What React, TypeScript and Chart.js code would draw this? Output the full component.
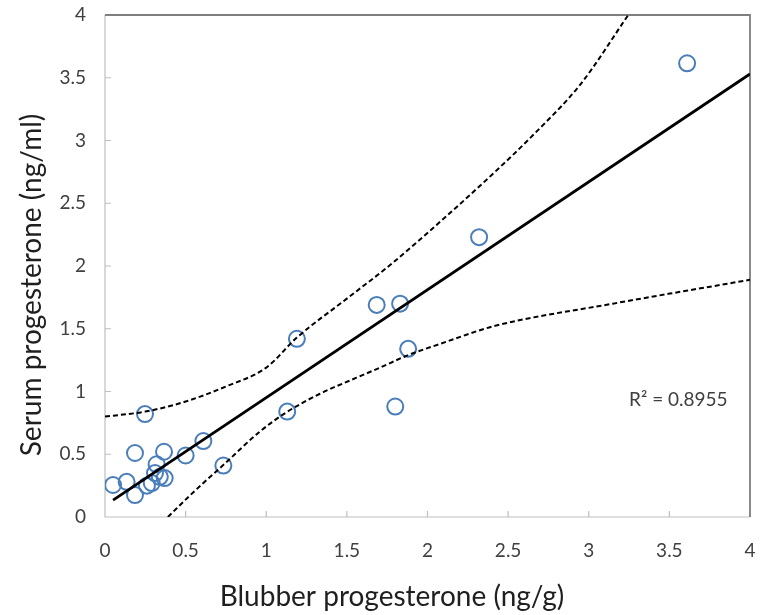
import React, { useEffect, useRef } from "react";
import { Chart, registerables } from "chart.js";

Chart.register(...registerables);

// Observed data: blubber progesterone (ng/g) vs serum progesterone (ng/ml)
const blubber = [0.05, 0.134, 0.186, 0.186, 0.248, 0.26, 0.29, 0.31, 0.32, 0.34, 0.37, 0.366, 0.5, 0.61, 0.734, 1.13, 1.19, 1.685, 1.83, 1.88, 1.8, 2.32, 3.61];
const serum = [0.255, 0.28, 0.175, 0.51, 0.82, 0.25, 0.27, 0.35, 0.42, 0.32, 0.31, 0.52, 0.49, 0.605, 0.41, 0.84, 1.42, 1.69, 1.7, 1.34, 0.88, 2.23, 3.615];

// Linear trend line
const trendX = [0.05, 4];
const trendY = [0.135, 3.53];

// Upper confidence band
const upperX = [0, 0.25, 0.5, 0.75, 1.0, 1.19, 1.5, 1.77, 2.12, 2.41, 2.66, 2.95, 3.245];
const upperY = [0.8, 0.84, 0.92, 1.04, 1.19, 1.43, 1.74, 2.01, 2.4, 2.74, 3.05, 3.45, 4.0];

// Lower confidence band
const lowerX = [0.39, 0.55, 0.73, 0.96, 1.12, 1.33, 1.56, 1.705, 1.88, 2.08, 2.41, 3.15, 4.0];
const lowerY = [0, 0.2, 0.41, 0.68, 0.83, 0.98, 1.11, 1.19, 1.29, 1.38, 1.52, 1.7, 1.89];

const xTicks = [0, 0.5, 1, 1.5, 2, 2.5, 3, 3.5, 4];
const yTicks = [0, 0.5, 1, 1.5, 2, 2.5, 3, 3.5, 4];

const xTitle = "Blubber progesterone (ng/g)";
const yTitle = "Serum progesterone (ng/ml)";
const r2Label = "R² = 0.8955";
const r2At = { x: 3.25, y: 0.93 };

const FONT = "Lato, 'Noto Sans', sans-serif";

const toPts = (xs: number[], ys: number[]) => xs.map((x, i) => ({ x, y: ys[i] }));

const framePlugin = {
  id: "frame",
  beforeDatasetsDraw(chart: any) {
    const { ctx, chartArea } = chart;
    const { left, right, top, bottom } = chartArea;
    const xs = chart.scales.x;
    const ys = chart.scales.y;
    ctx.save();
    ctx.strokeStyle = "#bfbfbf";
    ctx.lineWidth = 1.2;
    ctx.beginPath();
    ctx.moveTo(left, top);
    ctx.lineTo(left, bottom);
    ctx.lineTo(right, bottom);
    xTicks.forEach((v) => {
      const p = xs.getPixelForValue(v);
      ctx.moveTo(p, bottom);
      ctx.lineTo(p, bottom - 6);
    });
    yTicks.forEach((v) => {
      const p = ys.getPixelForValue(v);
      ctx.moveTo(left, p);
      ctx.lineTo(left + 6, p);
    });
    ctx.stroke();
    ctx.strokeStyle = "#7f7f7f";
    ctx.lineWidth = 1.8;
    ctx.beginPath();
    ctx.moveTo(left, top);
    ctx.lineTo(right, top);
    ctx.lineTo(right, bottom);
    ctx.stroke();
    ctx.restore();
  },
  afterDraw(chart: any) {
    const { ctx, chartArea } = chart;
    const xs = chart.scales.x;
    const ys = chart.scales.y;
    ctx.save();
    ctx.fillStyle = "#404040";
    ctx.font = `19px ${FONT}`;
    ctx.textAlign = "left";
    ctx.textBaseline = "middle";
    ctx.fillText(r2Label, xs.getPixelForValue(r2At.x), ys.getPixelForValue(r2At.y));

    ctx.fillStyle = "#1f1f1f";
    ctx.font = `28px ${FONT}`;
    ctx.textAlign = "center";
    ctx.textBaseline = "middle";
    ctx.fillText(xTitle, chartArea.left + 287, chartArea.bottom + 80);

    ctx.translate(32, chartArea.top + 270);
    ctx.rotate(-Math.PI / 2);
    ctx.fillText(yTitle, 0, 0);
    ctx.restore();
  },
};

const noPad = (s: any) => {
  s.paddingLeft = 0;
  s.paddingRight = 0;
  s.paddingTop = 0;
  s.paddingBottom = 0;
};

export default function App() {
  const ref = useRef<HTMLCanvasElement | null>(null);

  useEffect(() => {
    document.body.style.margin = "0";
    const canvas = ref.current;
    if (!canvas) return;
    const chart = new Chart(canvas, {
      type: "scatter",
      data: {
        datasets: [
          {
            label: "Trend",
            data: toPts(trendX, trendY),
            showLine: true,
            borderColor: "#000000",
            borderWidth: 2.8,
            pointRadius: 0,
            fill: false,
          },
          {
            label: "Upper",
            data: toPts(upperX, upperY),
            showLine: true,
            borderColor: "#000000",
            borderWidth: 2,
            borderDash: [5, 3],
            pointRadius: 0,
            cubicInterpolationMode: "monotone",
            fill: false,
          },
          {
            label: "Lower",
            data: toPts(lowerX, lowerY),
            showLine: true,
            borderColor: "#000000",
            borderWidth: 2,
            borderDash: [5, 3],
            pointRadius: 0,
            cubicInterpolationMode: "monotone",
            fill: false,
          },
          {
            label: "Samples",
            data: toPts(blubber, serum),
            showLine: false,
            pointStyle: "circle",
            pointRadius: 8,
            pointBorderWidth: 2,
            borderColor: "#4a7ebb",
            backgroundColor: "rgba(0,0,0,0)",
            pointBackgroundColor: "rgba(0,0,0,0)",
          },
        ],
      },
      options: {
        animation: false,
        responsive: false,
        devicePixelRatio: 1,
        layout: { padding: { top: 15, right: 11, left: 0, bottom: 0 } },
        plugins: {
          legend: { display: false },
          tooltip: { enabled: false },
        },
        scales: {
          x: {
            type: "linear",
            min: 0,
            max: 4,
            afterFit: (s: any) => {
              s.height = 98;
              noPad(s);
            },
            afterBuildTicks: (s: any) => {
              s.ticks = xTicks.map((v) => ({ value: v }));
            },
            ticks: {
              font: { family: FONT, size: 19 },
              color: "#404040",
              padding: 22,
              maxRotation: 0,
              callback: (v: any) => String(Number(v)),
            },
            grid: { display: false, drawTicks: false },
            border: { display: false },
          },
          y: {
            type: "linear",
            min: 0,
            max: 4,
            afterFit: (s: any) => {
              s.width = 105;
              noPad(s);
            },
            afterBuildTicks: (s: any) => {
              s.ticks = yTicks.map((v) => ({ value: v }));
            },
            ticks: {
              font: { family: FONT, size: 19 },
              color: "#404040",
              padding: 19,
              callback: (v: any) => String(Number(v)),
            },
            grid: { display: false, drawTicks: false },
            border: { display: false },
          },
        },
      },
      plugins: [framePlugin],
    });
    return () => chart.destroy();
  }, []);

  return (
    <div style={{ width: 761, height: 615, background: "#fff" }}>
      <canvas ref={ref} width={761} height={615} />
    </div>
  );
}
